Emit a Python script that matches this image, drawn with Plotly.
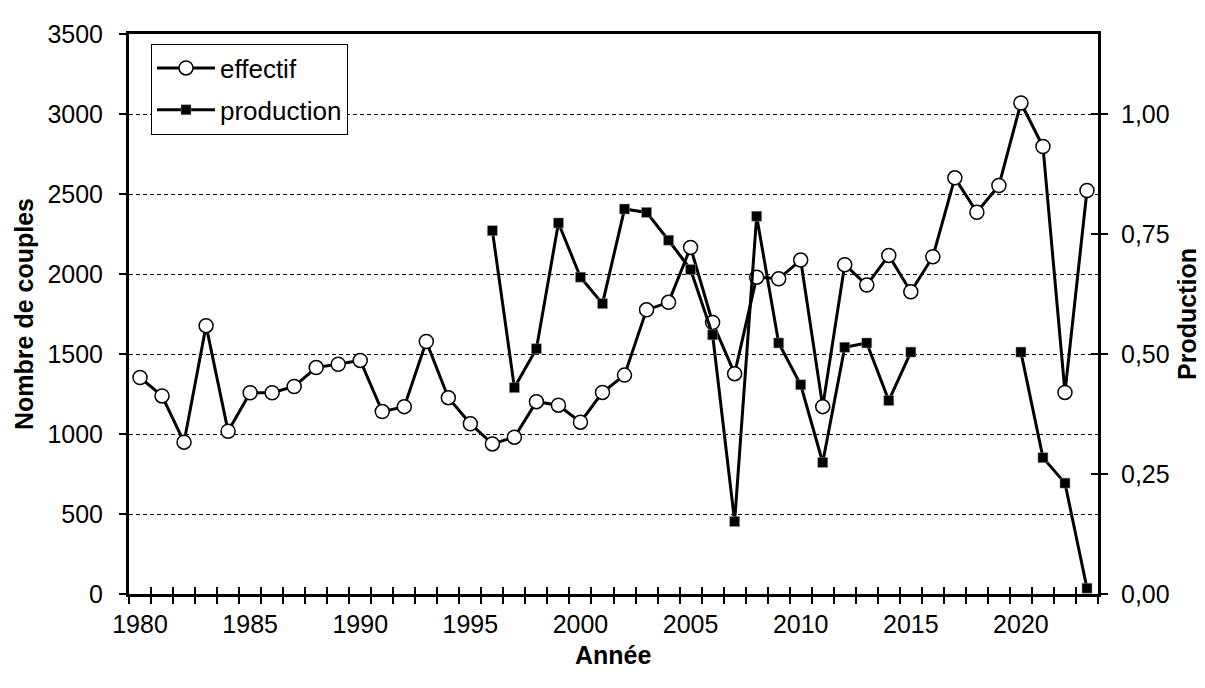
import plotly.graph_objects as go

years = list(range(1980, 2024))
effectif = [1353, 1238, 949, 1677, 1017, 1258, 1258, 1297, 1415, 1436,
            1460, 1140, 1171, 1578, 1227, 1064, 938, 980, 1202, 1180,
            1074, 1260, 1368, 1776, 1823, 2166, 1697, 1377, 1980, 1970,
            2087, 1171, 2058, 1931, 2116, 1889, 2108, 2601, 2386, 2553,
            3069, 2797, 1260, 2522]
production = [None] * 16 + [0.757, 0.430, 0.511, 0.773, 0.660, 0.605, 0.802, 0.795,
                            0.737, 0.676, 0.540, 0.151, 0.787, 0.523, 0.436, 0.274,
                            0.514, 0.523, 0.403, 0.504, None, None, None, None,
                            0.504, 0.284, 0.231, 0.012]
x_labels = [1980, 1985, 1990, 1995, 2000, 2005, 2010, 2015, 2020]
left_ticks = [0, 500, 1000, 1500, 2000, 2500, 3000, 3500]
right_ticks = [0, 0.25, 0.5, 0.75, 1.0]

FONT = "Liberation Sans, Arial, sans-serif"
xr = [1979.5, 2023.5]
yr = [0, 3500]
yr2 = [0, 3500 / 3000]

fig = go.Figure()
fig.add_trace(go.Scatter(
    x=years, y=effectif, name="effectif", mode="lines+markers", legendgroup="a",
    line=dict(color="black", width=3),
    marker=dict(symbol="circle", size=14, color="white", line=dict(color="black", width=1.5)),
    xaxis="x", yaxis="y"))
fig.add_trace(go.Scatter(
    x=years, y=production, name="production", mode="lines+markers", legendgroup="b",
    line=dict(color="black", width=3), connectgaps=False,
    marker=dict(symbol="square", size=10, color="black", line=dict(color="#999", width=0.5)),
    xaxis="x", yaxis="y2"))
# empty helper traces so overlay axes are drawn
for xa, ya in [("x2", "y"), ("x3", "y"), ("x", "y3")]:
    fig.add_trace(go.Scatter(x=[], y=[], xaxis=xa, yaxis=ya, showlegend=False, hoverinfo="skip"))

fig.update_layout(
    width=1197, height=680,
    margin=dict(l=121, r=107, t=20, b=94),
    paper_bgcolor="white", plot_bgcolor="white",
    font=dict(family=FONT, size=25, color="black"),
    separators=", ",
    showlegend=True,
    legend=dict(x=0.0227, y=0.983, xanchor="left", yanchor="top",
                bgcolor="white", bordercolor="black", borderwidth=1,
                font=dict(size=26, family=FONT), tracegroupgap=5,
                traceorder="grouped", itemwidth=58),
    xaxis=dict(range=xr, tickmode="linear", tick0=1979.5, dtick=1,
               ticks="outside", ticklen=7, tickwidth=1.5, tickcolor="black",
               showticklabels=False, showgrid=False, zeroline=False,
               showline=True, linewidth=3, linecolor="black", mirror=True),
    xaxis2=dict(range=xr, overlaying="x", anchor="y", tickmode="linear", tick0=1979.5, dtick=1,
                ticks="inside", ticklen=7, tickwidth=1.5, tickcolor="black",
                showticklabels=False, showgrid=False, zeroline=False, showline=False),
    xaxis3=dict(range=xr, overlaying="x", anchor="y", tickmode="array", tickvals=x_labels,
                ticks="", showticklabels=True, showgrid=False, zeroline=False, showline=False,
                ticklabelstandoff=13, tickfont=dict(size=25)),
    yaxis=dict(range=yr, tickmode="array", tickvals=left_ticks,
               ticks="outside", ticklen=7, tickwidth=1.5, tickcolor="black",
               showgrid=True, gridcolor="black", gridwidth=1, griddash="4px,3px",
               zeroline=False, showline=True, linewidth=3, linecolor="black",
               ticklabelstandoff=11, tickfont=dict(size=25)),
    yaxis2=dict(range=yr2, overlaying="y", side="right", anchor="x", tickmode="array",
                tickvals=right_ticks, tickformat=".2f",
                ticks="outside", ticklen=7, tickwidth=1.5, tickcolor="black",
                showgrid=False, zeroline=False, showline=True, linewidth=3, linecolor="black",
                ticklabelstandoff=8, tickfont=dict(size=25)),
    yaxis3=dict(range=yr2, overlaying="y", side="right", anchor="x", tickmode="array",
                tickvals=right_ticks, ticks="inside", ticklen=7, tickwidth=1.5, tickcolor="black",
                showticklabels=False, showgrid=False, zeroline=False, showline=False),
    annotations=[
        dict(text="<b>Nombre de couples</b>", xref="paper", yref="paper", x=0, y=0.5,
             xanchor="center", yanchor="middle", xshift=-105, textangle=-90, showarrow=False,
             font=dict(size=25, family=FONT)),
        dict(text="<b>Production</b>", xref="paper", yref="paper", x=1, y=0.5,
             xanchor="center", yanchor="middle", xshift=89, textangle=-90, showarrow=False,
             font=dict(size=25, family=FONT)),
        dict(text="<b>Année</b>", xref="paper", yref="paper", x=0.5, y=0,
             xanchor="center", yanchor="middle", yshift=-61, showarrow=False,
             font=dict(size=25, family=FONT)),
    ],
)

fig.write_html("out.html")
